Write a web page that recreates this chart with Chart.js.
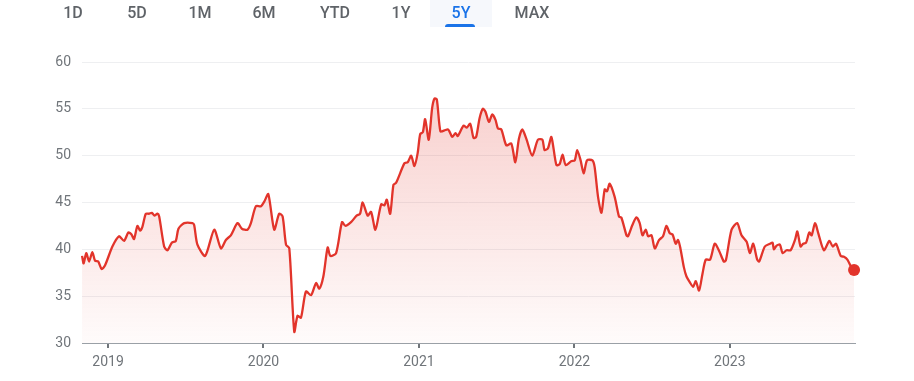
<!DOCTYPE html>
<html>
<head>
<meta charset="utf-8">
<script src="https://cdn.jsdelivr.net/npm/chart.js@4.4.0/dist/chart.umd.min.js"></script>
<style>
    html, body { margin: 0; padding: 0; background: #fff; }
    #wrap { position: relative; width: 914px; height: 381px; }
    #price { position: absolute; left: 0; top: 0; }
    .tab {
        position: absolute; top: 0; width: 62px; height: 27px;
        font: 500 16px Roboto, sans-serif; color: #5f6368;
        text-align: center; line-height: 26px;
    }
    .tab.active { color: #1a73e8; background: #f6f8fc; }
    .tab.active::after {
        content: ''; position: absolute; left: 15px; right: 17px; bottom: 0;
        height: 3px; border-radius: 3px 3px 0 0; background: #1a73e8;
    }
</style>
</head>
<body>
<div id="wrap">
    <canvas id="price" width="914" height="381"></canvas>
</div>
<script>
// range tabs (label, centre x)
const tabLabels = ['1D', '5D', '1M', '6M', 'YTD', '1Y', '5Y', 'MAX'];
const tabCenters = [73, 137, 200, 264, 335, 401, 461, 532];
const activeTab = '5Y';

// time as decimal years, price in the chart's unit
const dates = [
    2018.833, 2018.843, 2018.860, 2018.878, 2018.899, 2018.916, 2018.937, 2018.959, 2018.981, 2019.028,
    2019.071, 2019.103, 2019.131, 2019.150, 2019.167, 2019.189, 2019.206, 2019.221, 2019.243, 2019.264,
    2019.282, 2019.298, 2019.318, 2019.329, 2019.361, 2019.382, 2019.410, 2019.436, 2019.453, 2019.490,
    2019.543, 2019.554, 2019.575, 2019.625, 2019.683, 2019.726, 2019.758, 2019.790, 2019.833, 2019.861,
    2019.897, 2019.919, 2019.951, 2019.984, 2020.005, 2020.031, 2020.069, 2020.101, 2020.123, 2020.145,
    2020.166, 2020.198, 2020.219, 2020.241, 2020.273, 2020.306, 2020.338, 2020.359, 2020.385, 2020.413,
    2020.430, 2020.467, 2020.505, 2020.527, 2020.563, 2020.599, 2020.621, 2020.638, 2020.670, 2020.692,
    2020.720, 2020.757, 2020.778, 2020.793, 2020.815, 2020.836, 2020.853, 2020.907, 2020.928, 2020.950,
    2020.971, 2020.992, 2021.008, 2021.025, 2021.040, 2021.063, 2021.085, 2021.100, 2021.115, 2021.138,
    2021.164, 2021.186, 2021.196, 2021.214, 2021.235, 2021.250, 2021.287, 2021.308, 2021.330, 2021.351,
    2021.368, 2021.390, 2021.411, 2021.428, 2021.450, 2021.472, 2021.493, 2021.508, 2021.530, 2021.562,
    2021.594, 2021.620, 2021.643, 2021.665, 2021.691, 2021.729, 2021.765, 2021.794, 2021.808, 2021.830,
    2021.852, 2021.884, 2021.905, 2021.924, 2021.944, 2021.979, 2022.002, 2022.018, 2022.040, 2022.060,
    2022.081, 2022.116, 2022.130, 2022.152, 2022.174, 2022.195, 2022.210, 2022.227, 2022.259, 2022.287,
    2022.302, 2022.335, 2022.345, 2022.373, 2022.399, 2022.420, 2022.438, 2022.459, 2022.474, 2022.496,
    2022.517, 2022.545, 2022.570, 2022.592, 2022.614, 2022.631, 2022.652, 2022.667, 2022.682, 2022.704,
    2022.721, 2022.742, 2022.764, 2022.781, 2022.802, 2022.824, 2022.845, 2022.873, 2022.903, 2022.932,
    2022.961, 2022.974, 2023.011, 2023.047, 2023.075, 2023.108, 2023.129, 2023.150, 2023.176, 2023.189,
    2023.225, 2023.258, 2023.275, 2023.283, 2023.301, 2023.322, 2023.339, 2023.365, 2023.391, 2023.419,
    2023.434, 2023.455, 2023.472, 2023.490, 2023.511, 2023.526, 2023.548, 2023.569, 2023.605, 2023.640,
    2023.662, 2023.683, 2023.713, 2023.734, 2023.756, 2023.784, 2023.799
];
const prices = [
    39.3, 38.5, 39.6, 38.7, 39.7, 38.8, 38.7, 37.9, 38.3, 40.3,
    41.4, 40.9, 41.8, 41.6, 41.1, 42.5, 42.0, 42.4, 43.8, 43.8,
    43.9, 43.6, 43.8, 43.5, 40.3, 39.9, 40.7, 40.9, 42.2, 42.8,
    42.8, 42.6, 40.5, 39.3, 42.1, 40.1, 41.0, 41.5, 42.8, 42.2,
    42.1, 42.8, 44.6, 44.6, 45.1, 45.9, 42.1, 43.8, 43.5, 40.5,
    40.1, 31.2, 32.9, 32.7, 35.5, 35.1, 36.4, 35.8, 37.1, 40.2,
    39.3, 39.6, 42.9, 42.5, 42.9, 43.6, 43.8, 45.0, 43.6, 44.0,
    42.1, 44.8, 44.7, 45.3, 43.8, 46.9, 47.1, 49.2, 49.3, 50.0,
    48.9, 50.3, 52.3, 52.5, 53.9, 51.7, 55.1, 56.1, 56.0, 52.6,
    52.7, 52.8, 52.6, 52.0, 52.4, 52.1, 53.2, 53.0, 53.4, 51.9,
    52.0, 54.0, 55.0, 54.7, 53.6, 54.4, 53.8, 52.9, 52.8, 51.1,
    51.3, 49.3, 51.8, 52.8, 51.8, 50.0, 51.7, 51.7, 50.6, 50.8,
    52.0, 49.0, 49.1, 50.1, 49.0, 49.4, 49.5, 50.6, 49.5, 48.1,
    49.5, 49.5, 48.8, 45.6, 43.9, 46.4, 46.2, 47.0, 45.6, 43.5,
    43.4, 41.5, 41.4, 42.6, 43.4, 42.8, 41.5, 42.1, 41.4, 41.5,
    40.1, 41.0, 41.4, 42.5, 41.7, 41.6, 40.6, 41.0, 40.1, 38.1,
    37.1, 36.5, 36.0, 36.6, 35.6, 37.4, 38.9, 38.9, 40.6, 39.8,
    38.7, 38.8, 42.1, 42.8, 41.5, 40.8, 39.6, 40.6, 38.9, 38.7,
    40.3, 40.6, 40.7, 40.0, 40.4, 40.5, 39.6, 39.9, 39.9, 41.0,
    41.9, 40.3, 40.6, 40.7, 41.8, 41.5, 42.8, 41.7, 39.9, 40.9,
    40.3, 40.6, 39.3, 39.2, 38.9, 38.0, 37.8
];

const yearTicks = [2019, 2020, 2021, 2022, 2023];
const priceTicks = [30, 35, 40, 45, 50, 55, 60];
const rangeStart = 2018.8325;
const rangeEnd = 2023.805;

const wrap = document.getElementById('wrap');
tabLabels.forEach((label, i) => {
    let tab = document.createElement('div');
    tab.className = 'tab' + (label === activeTab ? ' active' : '');
    tab.style.left = (tabCenters[i] - 31) + 'px';
    tab.textContent = label;
    wrap.appendChild(tab);
});

const red = 'rgb(226, 52, 43)';
const lastIndex = prices.length - 1;

let priceCanvas = document.getElementById('price');
let priceChart = new Chart(priceCanvas, {
    type: 'line',
    data: {
        datasets: [
            {
                data: dates.map((d, i) => ({ x: d, y: prices[i] })),
                borderColor: red,
                borderWidth: 2.3,
                tension: 0.25,
                clip: false,
                fill: 'start',
                backgroundColor: (ctx) => {
                    const area = ctx.chart.chartArea;
                    if (!area) return 'rgba(226, 52, 43, 0.1)';
                    const g = ctx.chart.ctx.createLinearGradient(0, area.top, 0, area.bottom);
                    g.addColorStop(0, 'rgba(226, 52, 43, 0.26)');
                    g.addColorStop(1, 'rgba(226, 52, 43, 0.02)');
                    return g;
                },
                pointRadius: (ctx) => ctx.dataIndex === lastIndex ? 6 : 0,
                pointBackgroundColor: red,
                pointBorderWidth: 0,
                pointHoverRadius: 0,
            }
        ],
    },
    options: {
        responsive: false,
        animation: false,
        layout: {
            padding: { top: 62, right: 59, bottom: 8, left: 0 },
        },
        plugins: {
            legend: { display: false },
            tooltip: { enabled: false },
        },
        scales: {
            x: {
                type: 'linear',
                min: rangeStart,
                max: rangeEnd,
                afterBuildTicks: (s) => { s.ticks = yearTicks.map(v => ({ value: v })); },
                afterFit: (s) => { s.height = 30; },
                grid: {
                    drawOnChartArea: false,
                    drawTicks: true,
                    tickLength: 5,
                    color: '#70757a',
                    lineWidth: 2,
                },
                border: { display: true, color: '#9aa0a6', width: 1 },
                ticks: {
                    padding: 6,
                    color: '#70757a',
                    font: { family: 'Roboto', size: 14 },
                    maxRotation: 0,
                    callback: (v) => String(v),
                },
            },
            y: {
                min: 30,
                max: 60,
                afterBuildTicks: (s) => { s.ticks = priceTicks.map(v => ({ value: v })); },
                afterFit: (s) => { s.width = 82; },
                grid: {
                    drawTicks: false,
                    color: '#eeeff1',
                    lineWidth: 1,
                },
                border: { display: false },
                ticks: {
                    padding: 11,
                    color: '#70757a',
                    font: { family: 'Roboto', size: 14 },
                },
            },
        },
    },
});
</script>
</body>
</html>
